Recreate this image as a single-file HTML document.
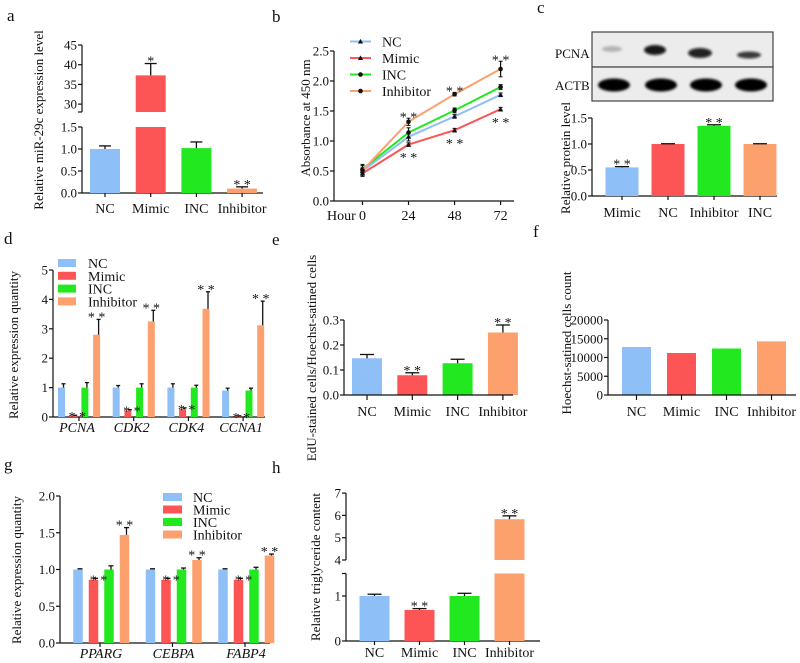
<!DOCTYPE html>
<html><head><meta charset="utf-8">
<style>
html,body{margin:0;padding:0;background:#fff;}
svg{display:block;}
svg text{font-family:"Liberation Serif","DejaVu Serif",serif;}
</style></head>
<body>
<svg id="fig" width="800" height="663" viewBox="0 0 800 663" xmlns="http://www.w3.org/2000/svg">
<defs>
<filter id="blur2" x="-50%" y="-50%" width="200%" height="200%"><feGaussianBlur stdDeviation="1.3"/></filter>
</defs>
</svg>
<script>
// ---------- data ----------
const posColors = ['#8fbff7', '#fd5555', '#22e81f', '#fca06e'];
const seriesNames = ['NC', 'Mimic', 'INC', 'Inhibitor'];

// panel a
const aCats = ['NC', 'Mimic', 'INC', 'Inhibitor'];
const aVals = [1.0, 37.3, 1.02, 0.1];
const aErrs = [0.07, 3.0, 0.14, 0.04];
const aStars = ['', '*', '', '* *'];
const aLowTicks = [0, 0.5, 1.0, 1.5];
const aHighTicks = [30, 35, 40, 45];

// panel b
const bHours = [0, 24, 48, 72];
const bNC = [0.50, 1.07, 1.41, 1.77];
const bMimic = [0.46, 0.94, 1.18, 1.53];
const bINC = [0.53, 1.14, 1.51, 1.90];
const bInh = [0.51, 1.32, 1.78, 2.20];
const bNCErr = [0.05, 0.07, 0.03, 0.03];
const bMimicErr = [0.03, 0.03, 0.03, 0.03];
const bINCErr = [0.06, 0.08, 0.04, 0.04];
const bInhErr = [0.10, 0.06, 0.03, 0.13];
const bTicks = [0, 0.5, 1.0, 1.5, 2.0, 2.5];

// panel c
const cCats = ['Mimic', 'NC', 'Inhibitor', 'INC'];
const cVals = [0.55, 1.0, 1.35, 1.0];
const cErrs = [0.015, 0.005, 0.02, 0.005];
const cStars = ['* *', '', '* *', ''];
const cTicks = [0, 0.5, 1.0, 1.5];

// panel d
const dGenes = ['PCNA', 'CDK2', 'CDK4', 'CCNA1'];
const dNC = [1.0, 1.0, 1.0, 0.9];
const dNCErr = [0.13, 0.07, 0.13, 0.08];
const dMimic = [0.05, 0.22, 0.27, 0.03];
const dMimicErr = [0.01, 0.03, 0.04, 0.01];
const dINC = [1.0, 1.0, 1.0, 0.9];
const dINCErr = [0.17, 0.13, 0.08, 0.08];
const dInh = [2.8, 3.25, 3.68, 3.12];
const dInhErr = [0.52, 0.38, 0.58, 0.82];
const dTicks = [0, 1, 2, 3, 4, 5];

// panel e
const eCats = ['NC', 'Mimic', 'INC', 'Inhibitor'];
const eVals = [0.147, 0.079, 0.127, 0.25];
const eErrs = [0.015, 0.01, 0.016, 0.03];
const eStars = ['', '* *', '', '* *'];
const eTicks = [0, 0.1, 0.2, 0.3];

// panel f
const fCats = ['NC', 'Mimic', 'INC', 'Inhibitor'];
const fVals = [12800, 11200, 12400, 14300];
const fTicks = [0, 5000, 10000, 15000, 20000];

// panel g
const gGenes = ['PPARG', 'CEBPA', 'FABP4'];
const gNC = [1.0, 1.0, 1.0];
const gNCErr = [0.01, 0.01, 0.01];
const gMimic = [0.86, 0.86, 0.86];
const gMimicErr = [0.02, 0.02, 0.02];
const gINC = [1.0, 1.0, 1.0];
const gINCErr = [0.05, 0.02, 0.03];
const gInh = [1.47, 1.13, 1.19];
const gInhErr = [0.10, 0.03, 0.02];
const gTicks = [0, 0.5, 1.0, 1.5, 2.0];

// panel h
const hCats = ['NC', 'Mimic', 'INC', 'Inhibitor'];
const hVals = [1.0, 0.69, 1.0, 5.83];
const hErrs = [0.04, 0.03, 0.06, 0.15];
const hStars = ['', '* *', '', '* *'];
const hLowTicks = [0, 1];
const hHighTicks = [4, 5, 6, 7];

// ---------- helpers ----------
const NS = 'http://www.w3.org/2000/svg';
const svg = document.getElementById('fig');
function el(parent, tag, attrs, name) {
  const e = document.createElementNS(NS, tag);
  for (const k in attrs) e.setAttribute(k, attrs[k]);
  
  
  parent.appendChild(e);
  return e;
}
function grp(name) { return el(svg, 'g', {}, name); }
function txt(parent, x, y, s, size, anchor, name, extra) {
  const a = Object.assign({x: x, y: y, 'font-size': size, 'text-anchor': anchor || 'start', fill: '#111', 'font-family': 'Liberation Serif, DejaVu Serif, serif'}, extra || {});
  const t = el(parent, 'text', a, name);
  t.textContent = s;
  return t;
}
function line(parent, x1, y1, x2, y2, name, w, col) {
  return el(parent, 'line', {x1: x1, y1: y1, x2: x2, y2: y2, stroke: col || '#111', 'stroke-width': w || 1.2}, name);
}
function vtitle(parent, x, y, s, size, name) {
  return txt(parent, x, y, s, size, 'middle', name, {transform: 'rotate(-90 ' + x + ' ' + y + ')'});
}
function yAxis(parent, x, ticks, yf, fmt, size, name) {
  line(parent, x, yf(ticks[0]), x, yf(ticks[ticks.length - 1]), name + '-line');
  ticks.forEach(function (t) {
    line(parent, x - 4, yf(t), x, yf(t), name + '-tick');
    txt(parent, x - 5, yf(t) + 4.5, fmt(t), size, 'end', name + '-label');
  });
}
function bar(parent, cx, w, y0, y1, color, name) {
  return el(parent, 'rect', {x: cx - w / 2, y: Math.min(y0, y1), width: w, height: Math.abs(y0 - y1), fill: color}, name);
}
function errUp(parent, cx, yTop, yErr, cap, name) {
  line(parent, cx, yTop, cx, yErr, name, 1.3);
  line(parent, cx - cap, yErr, cx + cap, yErr, name + '-cap', 1.3);
}
function stars(parent, cx, y, s, name) {
  if (!s) return;
  txt(parent, cx, y, s, 14, 'middle', name);
}
const f1 = function (t) { return t.toFixed(1); };
const f0 = function (t) { return String(t); };

// ---------- panel a ----------
(function () {
  const g = grp('panel-a');
  txt(g, 7, 21, 'a', 17, 'start', 'panel-label-a');
  const yLow = function (v) { return 193 - v * 44; };
  const yHigh = function (v) { return 112 - (v - 28) * 3.94; };
  const ax = 82;
  yAxis(g, ax, aLowTicks, yLow, f1, 13, 'a-y-axis-lower');
  yAxis(g, ax, aHighTicks, yHigh, f0, 13, 'a-y-axis-upper');
  line(g, ax, yHigh(28), ax, yHigh(30), 'a-y-axis-upper-ext');
  line(g, ax - 4, yHigh(28), ax, yHigh(28), 'a-break-tick');
  vtitle(g, 43, 120, 'Relative miR-29c expression level', 13, 'a-y-axis-title');
  line(g, ax, 193, 263, 193, 'a-x-axis');
  aCats.forEach(function (c, i) {
    const cx = 105 + i * 45.7;
    const v = aVals[i];
    if (v > 1.5) {
      bar(g, cx, 30, yLow(0), yLow(1.5), posColors[i], 'a-bar-' + c.toLowerCase() + '-lower');
      bar(g, cx, 30, yHigh(28), yHigh(v), posColors[i], 'a-bar-' + c.toLowerCase() + '-upper');
      errUp(g, cx, yHigh(v), yHigh(v + aErrs[i]), 6, 'a-error-' + c.toLowerCase());
      stars(g, cx, yHigh(v + aErrs[i]) + 2, aStars[i], 'a-sig-' + c.toLowerCase());
    } else {
      bar(g, cx, 30, yLow(0), yLow(v), posColors[i], 'a-bar-' + c.toLowerCase());
      errUp(g, cx, yLow(v), yLow(v + aErrs[i]), 6, 'a-error-' + c.toLowerCase());
      stars(g, cx, yLow(v + aErrs[i]) + 2, aStars[i], 'a-sig-' + c.toLowerCase());
    }
    line(g, cx, 193, cx, 197, 'a-x-tick');
    txt(g, cx, 213, c, 14, 'middle', 'a-x-label-' + c.toLowerCase());
  });
})();

// ---------- panel b ----------
(function () {
  const g = grp('panel-b');
  txt(g, 272, 22, 'b', 17, 'start', 'panel-label-b');
  const y = function (v) { return 201 - v * 60; };
  const x = function (h) { return 362.5 + h * 1.918; };
  yAxis(g, 334, bTicks, y, f1, 13, 'b-y-axis');
  vtitle(g, 310, 118, 'Absorbance at 450 nm', 13, 'b-y-axis-title');
  line(g, 334, 201, 514, 201, 'b-x-axis');
  txt(g, 327, 220, 'Hour', 14, 'start', 'b-x-axis-title');
  bHours.forEach(function (h) {
    line(g, x(h), 201, x(h), 205, 'b-x-tick');
    txt(g, x(h), 220, String(h), 14, 'middle', 'b-x-label');
  });
  const series = [
    [bNC, bNCErr, '#8fbff7', 'tri', 'NC'],
    [bMimic, bMimicErr, '#fd5555', 'tri', 'Mimic'],
    [bINC, bINCErr, '#22e81f', 'dot', 'INC'],
    [bInh, bInhErr, '#fca06e', 'dot', 'Inhibitor']
  ];
  function marker(cx, cy, type, name) {
    if (type === 'tri') {
      el(g, 'polygon', {points: (cx - 2.6) + ',' + (cy + 2) + ' ' + (cx + 2.6) + ',' + (cy + 2) + ' ' + cx + ',' + (cy - 2.6), fill: '#111'}, name);
    } else {
      el(g, 'circle', {cx: cx, cy: cy, r: 2.3, fill: '#111'}, name);
    }
  }
  series.forEach(function (s, k) {
    const pts = bHours.map(function (h, i) { return x(h) + ',' + y(s[0][i]); }).join(' ');
    el(g, 'polyline', {points: pts, fill: 'none', stroke: s[2], 'stroke-width': 2}, 'b-line-' + s[4].toLowerCase());
    bHours.forEach(function (h, i) {
      const v = s[0][i], e = s[1][i];
      line(g, x(h), y(v - e), x(h), y(v + e), 'b-error-' + s[4].toLowerCase(), 1.2);
      line(g, x(h) - 2, y(v - e), x(h) + 2, y(v - e), 'b-error-cap', 1);
      line(g, x(h) - 2, y(v + e), x(h) + 2, y(v + e), 'b-error-cap', 1);
      marker(x(h), y(v), s[3], 'b-point-' + s[4].toLowerCase());
    });
    const ly = 41.5 + k * 16.5;
    line(g, 350, ly, 371, ly, 'b-legend-line-' + s[4].toLowerCase(), 2, s[2]);
    marker(360.5, ly, s[3], 'b-legend-marker');
    txt(g, 382, ly + 5, s[4], 14, 'start', 'b-legend-label-' + s[4].toLowerCase());
  });
  bHours.forEach(function (h, i) {
    if (i === 0) return;
    stars(g, x(h), y(bInh[i] + bInhErr[i] + 0.08) + 8, '* *', 'b-sig-above');
    stars(g, x(h), y(bMimic[i] - 0.16) + 8, '* *', 'b-sig-below');
  });
})();

// ---------- panel c ----------
(function () {
  const g = grp('panel-c');
  txt(g, 537, 13, 'c', 17, 'start', 'panel-label-c');
  const blot = el(g, 'g', {}, 'c-western-blot');
  el(blot, 'rect', {x: 592, y: 32, width: 181, height: 35, fill: '#ececec', stroke: '#444', 'stroke-width': 1.2}, 'c-blot-pcna-box');
  el(blot, 'rect', {x: 592, y: 67, width: 181, height: 34, fill: '#ececec', stroke: '#444', 'stroke-width': 1.2}, 'c-blot-actb-box');
  const pcnaBands = [[612, 49, 10, 3, 0.25], [655, 50, 11, 5, 0.95], [700, 53, 12, 5, 0.9], [749, 55, 12, 3.5, 0.8]];
  pcnaBands.forEach(function (b) {
    el(blot, 'ellipse', {cx: b[0], cy: b[1], rx: b[2], ry: b[3], fill: '#111', opacity: b[4], filter: 'url(#blur2)'}, 'c-pcna-band');
  });
  [614, 661, 706, 751].forEach(function (cx) {
    el(blot, 'ellipse', {cx: cx, cy: 85, rx: 16, ry: 6.5, fill: '#050505', filter: 'url(#blur2)'}, 'c-actb-band');
  });
  txt(g, 555, 58, 'PCNA', 13, 'start', 'c-blot-label-pcna');
  txt(g, 555, 90, 'ACTB', 13, 'start', 'c-blot-label-actb');
  const y = function (v) { return 196 - v * 52; };
  yAxis(g, 592, cTicks, y, f1, 13, 'c-y-axis');
  vtitle(g, 570, 158, 'Relative protein level', 13, 'c-y-axis-title');
  line(g, 592, 196, 777, 196, 'c-x-axis');
  cCats.forEach(function (c, i) {
    const cx = 622 + i * 46;
    bar(g, cx, 33, y(0), y(cVals[i]), posColors[i], 'c-bar-' + c.toLowerCase());
    errUp(g, cx, y(cVals[i]), y(cVals[i] + cErrs[i]), 7, 'c-error-' + c.toLowerCase());
    stars(g, cx, y(cVals[i] + cErrs[i]) + 2, cStars[i], 'c-sig-' + c.toLowerCase());
    line(g, cx, 196, cx, 200, 'c-x-tick');
    txt(g, cx, 217, c, 14, 'middle', 'c-x-label-' + c.toLowerCase());
  });
})();

// ---------- panel d ----------
(function () {
  const g = grp('panel-d');
  txt(g, 4, 244, 'd', 17, 'start', 'panel-label-d');
  const y = function (v) { return 417 - v * 29.4; };
  yAxis(g, 53, dTicks, y, f0, 13, 'd-y-axis');
  vtitle(g, 18, 345, 'Relative expression quantity', 13, 'd-y-axis-title');
  line(g, 53, 417, 265, 417, 'd-x-axis');
  const series = [[dNC, dNCErr], [dMimic, dMimicErr], [dINC, dINCErr], [dInh, dInhErr]];
  dGenes.forEach(function (gene, i) {
    const gx = 58 + i * 54.7;
    series.forEach(function (s, j) {
      const cx = gx + 3.5 + j * 11.7;
      const v = s[0][i];
      bar(g, cx, 7, y(0), y(v), posColors[j], 'd-bar-' + gene.toLowerCase() + '-' + seriesNames[j].toLowerCase());
      errUp(g, cx + 2, y(v), y(v + s[1][i]), 2, 'd-error');
    });
    stars(g, gx + 3.5 + 1 * 11.7 + 4, y(dMimic[i] + dMimicErr[i]) + 6, '* *', 'd-sig-mimic-' + gene.toLowerCase());
    stars(g, gx + 3.5 + 3 * 11.7, y(dInh[i] + dInhErr[i]) + 2, '* *', 'd-sig-inhibitor-' + gene.toLowerCase());
    line(g, gx + 21, 417, gx + 21, 421, 'd-x-tick');
    txt(g, gx + 19, 432, gene, 14, 'middle', 'd-x-label-' + gene.toLowerCase(), {'font-style': 'italic'});
  });
  seriesNames.forEach(function (n, k) {
    const ly = 263 + k * 12.8;
    el(g, 'rect', {x: 58, y: ly - 4, width: 18, height: 8, fill: posColors[k]}, 'd-legend-swatch-' + n.toLowerCase());
    txt(g, 88, ly + 5, n, 14, 'start', 'd-legend-label-' + n.toLowerCase());
  });
})();

// ---------- panel e ----------
(function () {
  const g = grp('panel-e');
  txt(g, 272, 245, 'e', 17, 'start', 'panel-label-e');
  const y = function (v) { return 395 - v * 250; };
  yAxis(g, 344, eTicks, y, f1, 13, 'e-y-axis');
  vtitle(g, 316, 358, 'EdU-stained cells/Hoechst-satined cells', 13, 'e-y-axis-title');
  eCats.forEach(function (c, i) {
    const cx = 367 + i * 45.3;
    bar(g, cx, 30, y(0), y(eVals[i]), posColors[i], 'e-bar-' + c.toLowerCase());
    errUp(g, cx, y(eVals[i]), y(eVals[i] + eErrs[i]), 7, 'e-error-' + c.toLowerCase());
    stars(g, cx, y(eVals[i] + eErrs[i]) + 2, eStars[i], 'e-sig-' + c.toLowerCase());
    line(g, cx, 395, cx, 400, 'e-x-tick');
    txt(g, cx, 416, c, 14, 'middle', 'e-x-label-' + c.toLowerCase());
  });
  line(g, 344, 395, 513, 395, 'e-x-axis');
})();

// ---------- panel f ----------
(function () {
  const g = grp('panel-f');
  txt(g, 533, 237, 'f', 17, 'start', 'panel-label-f');
  const y = function (v) { return 395 - v * 0.00375; };
  yAxis(g, 608, fTicks, y, f0, 13, 'f-y-axis');
  vtitle(g, 571, 343, 'Hoechst-satined cells count', 13, 'f-y-axis-title');
  fCats.forEach(function (c, i) {
    const cx = 636.5 + i * 45;
    bar(g, cx, 29, y(0), y(fVals[i]), posColors[i], 'f-bar-' + c.toLowerCase());
    line(g, cx, 395, cx, 400, 'f-x-tick');
    txt(g, cx, 416, c, 14, 'middle', 'f-x-label-' + c.toLowerCase());
  });
  line(g, 608, 395, 796, 395, 'f-x-axis');
})();

// ---------- panel g ----------
(function () {
  const g = grp('panel-g');
  txt(g, 4, 470, 'g', 17, 'start', 'panel-label-g');
  const y = function (v) { return 643 - v * 73.5; };
  yAxis(g, 60, gTicks, y, f1, 13, 'g-y-axis');
  vtitle(g, 21, 570, 'Relative expression quantity', 13, 'g-y-axis-title');
  line(g, 60, 643, 270, 643, 'g-x-axis');
  const series = [[gNC, gNCErr], [gMimic, gMimicErr], [gINC, gINCErr], [gInh, gInhErr]];
  gGenes.forEach(function (gene, i) {
    const gx = 73 + i * 72.5;
    series.forEach(function (s, j) {
      const cx = gx + 5 + j * 15.5;
      const v = s[0][i];
      bar(g, cx, 9.5, y(0), y(v), posColors[j], 'g-bar-' + gene.toLowerCase() + '-' + seriesNames[j].toLowerCase());
      errUp(g, cx + 2, y(v), y(v + s[1][i]), 2.5, 'g-error');
    });
    stars(g, gx + 5 + 15.5 + 5, y(gMimic[i] + gMimicErr[i]) + 6, '* *', 'g-sig-mimic-' + gene.toLowerCase());
    stars(g, gx + 5 + 3 * 15.5, y(gInh[i] + gInhErr[i]) + 2, '* *', 'g-sig-inhibitor-' + gene.toLowerCase());
    line(g, gx + 27, 643, gx + 27, 647, 'g-x-tick');
    txt(g, gx + 28, 658, gene, 14, 'middle', 'g-x-label-' + gene.toLowerCase(), {'font-style': 'italic'});
  });
  seriesNames.forEach(function (n, k) {
    const ly = 497 + k * 12.5;
    el(g, 'rect', {x: 163, y: ly - 4, width: 19, height: 8, fill: posColors[k]}, 'g-legend-swatch-' + n.toLowerCase());
    txt(g, 193, ly + 5, n, 14, 'start', 'g-legend-label-' + n.toLowerCase());
  });
})();

// ---------- panel h ----------
(function () {
  const g = grp('panel-h');
  txt(g, 272, 473, 'h', 17, 'start', 'panel-label-h');
  const yLow = function (v) { return 641 - v * 45; };
  const yHigh = function (v) { return 560 - (v - 4) * 22.3; };
  yAxis(g, 346, hLowTicks, yLow, f0, 13, 'h-y-axis-lower');
  line(g, 346, yLow(1), 346, yLow(1.5), 'h-y-axis-lower-ext');
  line(g, 342, yLow(1.5), 346, yLow(1.5), 'h-break-tick');
  yAxis(g, 346, hHighTicks, yHigh, f0, 13, 'h-y-axis-upper');
  vtitle(g, 320, 567, 'Relative triglyceride content', 13, 'h-y-axis-title');
  line(g, 346, 641, 540, 641, 'h-x-axis');
  hCats.forEach(function (c, i) {
    const cx = 374.5 + i * 45;
    const v = hVals[i];
    if (v > 1.5) {
      bar(g, cx, 30, yLow(0), yLow(1.5), posColors[i], 'h-bar-' + c.toLowerCase() + '-lower');
      bar(g, cx, 30, yHigh(4), yHigh(v), posColors[i], 'h-bar-' + c.toLowerCase() + '-upper');
      errUp(g, cx, yHigh(v), yHigh(v + hErrs[i]), 7, 'h-error-' + c.toLowerCase());
      stars(g, cx, yHigh(v + hErrs[i]) + 2, hStars[i], 'h-sig-' + c.toLowerCase());
    } else {
      bar(g, cx, 30, yLow(0), yLow(v), posColors[i], 'h-bar-' + c.toLowerCase());
      errUp(g, cx, yLow(v), yLow(v + hErrs[i]), 7, 'h-error-' + c.toLowerCase());
      stars(g, cx, yLow(v + hErrs[i]) + 2, hStars[i], 'h-sig-' + c.toLowerCase());
    }
    line(g, cx, 641, cx, 645, 'h-x-tick');
    txt(g, cx, 657, c, 14, 'middle', 'h-x-label-' + c.toLowerCase());
  });
})();
</script>
</body></html>
